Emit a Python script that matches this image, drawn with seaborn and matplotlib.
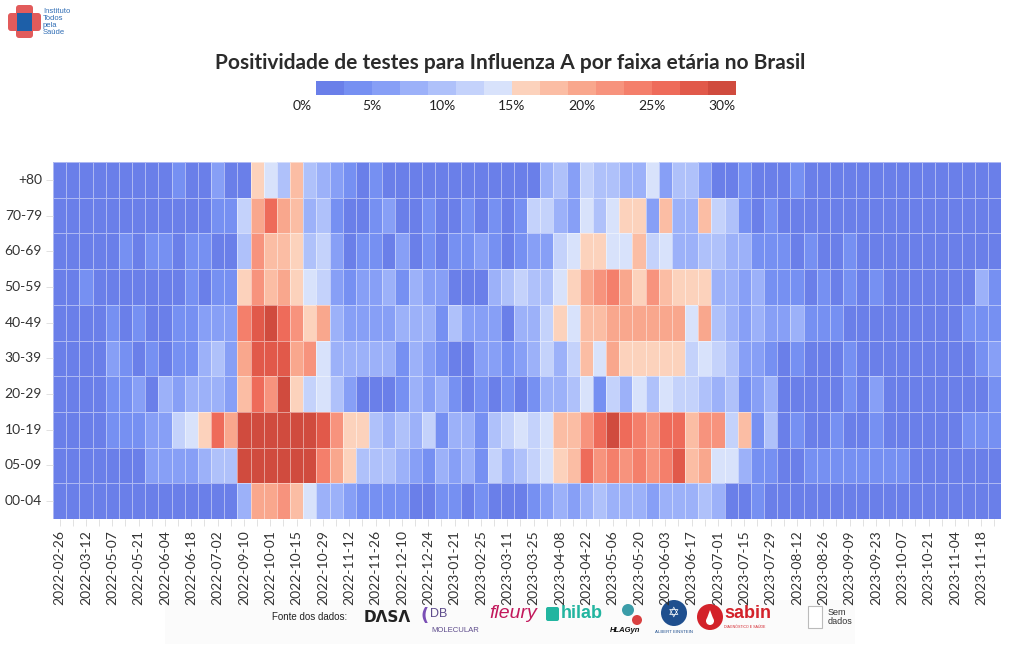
import numpy as np
import pandas as pd
import matplotlib
matplotlib.use("Agg")
import matplotlib.pyplot as plt
import seaborn as sns
from matplotlib.colors import ListedColormap
from matplotlib.patches import FancyBboxPatch, Rectangle, Circle, Polygon

# ---------------- data ----------------
age_groups = ["+80", "70-79", "60-69", "50-59", "40-49", "30-39", "20-29", "10-19", "05-09", "00-04"]

weeks = [
    "2022-02-26", "2022-03-05", "2022-03-12", "2022-04-30", "2022-05-07", "2022-05-14",
    "2022-05-21", "2022-05-28", "2022-06-04", "2022-06-11", "2022-06-18", "2022-06-25",
    "2022-07-02", "2022-09-03", "2022-09-10", "2022-09-24", "2022-10-01", "2022-10-08",
    "2022-10-15", "2022-10-22", "2022-10-29", "2022-11-05", "2022-11-12", "2022-11-19",
    "2022-11-26", "2022-12-03", "2022-12-10", "2022-12-17", "2022-12-24", "2023-01-14",
    "2023-01-21", "2023-02-18", "2023-02-25", "2023-03-04", "2023-03-11", "2023-03-18",
    "2023-03-25", "2023-04-01", "2023-04-08", "2023-04-15", "2023-04-22", "2023-04-29",
    "2023-05-06", "2023-05-13", "2023-05-20", "2023-05-27", "2023-06-03", "2023-06-10",
    "2023-06-17", "2023-06-24", "2023-07-01", "2023-07-08", "2023-07-15", "2023-07-22",
    "2023-07-29", "2023-08-05", "2023-08-12", "2023-08-19", "2023-08-26", "2023-09-02",
    "2023-09-09", "2023-09-16", "2023-09-23", "2023-09-30", "2023-10-07", "2023-10-14",
    "2023-10-21", "2023-10-28", "2023-11-04", "2023-11-11", "2023-11-18", "2023-11-25",
]

# positivity (%) per age group, one value per week
pos_80 = [1, 1, 1, 1, 1, 1, 1, 1, 1, 3, 1, 1, 5, 1, 1, 15, 13, 9, 17, 9, 7, 5, 3, 1,
          3, 1, 1, 1, 1, 1, 1, 1, 1, 1, 1, 1, 1, 7, 9, 5, 11, 9, 9, 7, 7, 13, 5, 9,
          9, 5, 1, 1, 3, 1, 1, 1, 3, 1, 1, 1, 1, 1, 1, 1, 1, 1, 1, 1, 1, 1, 1, 1]
pos_70 = [1, 1, 1, 1, 1, 1, 1, 1, 1, 1, 1, 1, 3, 3, 11, 19, 25, 19, 17, 7, 9, 3, 1, 1,
          3, 5, 1, 1, 3, 1, 1, 3, 1, 3, 1, 3, 11, 11, 7, 5, 13, 9, 13, 15, 15, 5, 17, 7,
          7, 17, 11, 9, 3, 1, 3, 1, 1, 1, 1, 1, 1, 1, 1, 1, 1, 1, 1, 1, 1, 1, 1, 1]
pos_60 = [1, 1, 1, 1, 1, 3, 1, 3, 3, 1, 3, 3, 1, 1, 9, 21, 17, 17, 15, 9, 11, 5, 1, 3,
          3, 1, 5, 1, 3, 1, 3, 3, 5, 3, 1, 3, 5, 5, 11, 13, 15, 15, 13, 13, 17, 11, 13, 7,
          7, 9, 9, 7, 7, 3, 3, 3, 1, 3, 1, 1, 3, 1, 1, 1, 1, 1, 1, 1, 1, 1, 1, 1]
pos_50 = [1, 1, 3, 1, 1, 1, 1, 1, 1, 1, 3, 1, 3, 3, 15, 21, 17, 19, 15, 13, 11, 5, 3, 5,
          5, 7, 3, 7, 5, 5, 1, 1, 1, 7, 9, 11, 9, 9, 13, 15, 19, 21, 23, 19, 15, 21, 17, 15,
          15, 15, 7, 7, 5, 7, 3, 3, 3, 1, 3, 1, 3, 1, 3, 1, 1, 1, 1, 1, 1, 1, 7, 3]
pos_40 = [1, 1, 1, 1, 3, 1, 3, 1, 1, 3, 3, 5, 5, 5, 23, 27, 29, 25, 21, 15, 19, 7, 5, 5,
          5, 5, 7, 7, 7, 3, 9, 5, 5, 5, 1, 7, 7, 11, 15, 13, 17, 17, 19, 19, 19, 19, 19, 19,
          13, 19, 9, 7, 5, 7, 5, 5, 7, 3, 3, 3, 1, 1, 1, 1, 1, 1, 1, 1, 1, 3, 3, 3]
pos_30 = [1, 1, 1, 1, 5, 3, 1, 3, 1, 3, 3, 7, 9, 5, 19, 27, 27, 27, 19, 21, 13, 7, 7, 7,
          7, 7, 3, 7, 5, 3, 1, 1, 5, 5, 3, 5, 7, 11, 7, 11, 17, 13, 19, 15, 15, 15, 15, 15,
          11, 13, 11, 9, 5, 5, 3, 1, 3, 1, 1, 1, 3, 1, 1, 1, 1, 1, 1, 1, 1, 1, 3, 5]
pos_20 = [1, 1, 1, 1, 3, 3, 5, 1, 7, 5, 7, 7, 7, 5, 17, 25, 21, 29, 15, 11, 13, 9, 5, 1,
          1, 1, 3, 7, 5, 7, 3, 1, 3, 1, 3, 1, 3, 7, 7, 9, 13, 3, 11, 7, 13, 9, 13, 11,
          11, 9, 7, 9, 3, 5, 7, 1, 1, 1, 1, 1, 3, 1, 5, 1, 1, 1, 1, 1, 1, 1, 1, 3]
pos_10 = [1, 1, 1, 1, 3, 3, 3, 5, 5, 11, 13, 15, 25, 19, 29, 29, 29, 29, 29, 29, 27, 21, 15, 15,
          9, 7, 9, 7, 11, 3, 7, 7, 3, 9, 11, 13, 11, 13, 17, 17, 21, 25, 29, 25, 23, 21, 25, 25,
          17, 21, 21, 11, 17, 3, 9, 1, 3, 1, 1, 3, 1, 1, 3, 1, 1, 1, 1, 1, 1, 3, 3, 3]
pos_05 = [1, 1, 1, 1, 1, 1, 1, 5, 5, 5, 5, 7, 9, 9, 29, 29, 29, 29, 29, 29, 23, 19, 15, 9,
          9, 9, 7, 5, 3, 7, 5, 7, 3, 11, 7, 9, 11, 13, 15, 17, 25, 21, 23, 21, 23, 21, 23, 27,
          17, 19, 13, 13, 7, 3, 3, 1, 1, 3, 3, 3, 3, 3, 3, 3, 3, 1, 1, 1, 1, 1, 1, 1]
pos_00 = [1, 1, 1, 1, 1, 1, 1, 1, 1, 1, 1, 1, 1, 1, 7, 19, 19, 21, 17, 13, 7, 7, 5, 3,
          3, 3, 3, 1, 1, 3, 3, 1, 3, 1, 1, 1, 3, 5, 7, 5, 7, 9, 7, 7, 7, 5, 7, 7,
          7, 9, 7, 1, 1, 3, 1, 1, 1, 1, 1, 1, 1, 1, 1, 1, 1, 1, 1, 1, 1, 1, 1, 1]

legend_ticks = [0, 5, 10, 15, 20, 25, 30]

title = "Positividade de testes para Influenza A por faixa etária no Brasil"

# ---------------- style ----------------
palette = ["#6a7fe9", "#7690f2", "#879ff6", "#9cb1f9", "#afc1fa", "#c4d2fb", "#d8e2fb",
           "#fcd2bc", "#fbbda4", "#f9a78d", "#f7937d", "#f47f6b", "#ee6b5a", "#e1594a", "#d04b3e"]
cmap = ListedColormap(palette)

FONT = "Lato"
TXT = "#333333"

fig = plt.figure(figsize=(10.2, 6.5), dpi=100)
fig.patch.set_facecolor("white")

# overlay in pixel coordinates for decorations
ov = fig.add_axes([0, 0, 1, 1])
ov.set_xlim(0, 1020)
ov.set_ylim(650, 0)
ov.axis("off")

# ---------------- heatmap ----------------
df = pd.DataFrame([pos_80, pos_70, pos_60, pos_50, pos_40, pos_30, pos_20, pos_10, pos_05, pos_00],
                  index=age_groups, columns=weeks)

ax = fig.add_axes([53 / 1020, 1 - 519 / 650, 948 / 1020, 357 / 650])
sns.heatmap(df, ax=ax, cmap=cmap, vmin=0, vmax=30, cbar=False,
            linewidths=0.6, linecolor=(1, 1, 1, 0.45))

ax.set_xticks(np.arange(len(weeks)) + 0.5)
ax.set_xticklabels([w if i % 2 == 0 else "" for i, w in enumerate(weeks)],
                   rotation=90, fontsize=10, family=FONT, color=TXT)
ax.set_yticks(np.arange(len(age_groups)) + 0.5)
ax.set_yticklabels(age_groups, rotation=0, fontsize=10, family=FONT, color=TXT)
ax.tick_params(axis="x", length=5, width=0.6, color="#dddddd", pad=3)
ax.tick_params(axis="y", length=5, width=0.6, color="#dddddd", pad=3)
ax.set_xlabel("")
ax.set_ylabel("")

# ---------------- title ----------------
fig.text(0.5, 1 - 63 / 650, title, ha="center", va="center", fontsize=15,
         fontweight="bold", family=FONT, color="#2b2b2b")

# ---------------- color legend ----------------
cax = fig.add_axes([316 / 1020, 1 - 95 / 650, 420 / 1020, 14 / 650])
edges = np.arange(0, 32, 2)
cax.pcolormesh(edges, [0, 1], (edges[:-1] + 1).reshape(1, -1), cmap=cmap, vmin=0, vmax=30)
cax.set_xlim(0, 30)
cax.set_ylim(0, 1)
cax.axis("off")
for t in legend_ticks:
    cax.text(t - 1, -0.35, f"{t}%", ha="center", va="top", fontsize=10,
             family=FONT, color="#222222", clip_on=False)

# ---------------- top-left logo ----------------
ov.add_patch(FancyBboxPatch((8, 13), 33, 18, boxstyle="round,pad=0,rounding_size=3",
                            fc="#e25b5b", ec="none"))
ov.add_patch(FancyBboxPatch((16, 5), 17, 33, boxstyle="round,pad=0,rounding_size=3",
                            fc="#e25b5b", ec="none"))
ov.add_patch(Rectangle((17, 13), 15, 18, fc="#1d5fa8", ec="none"))
ov.text(43, 22, "Instituto\nTodos\npela\nSaúde", fontsize=5.5, color="#2f6db5",
        va="center", ha="left", linespacing=0.95, family="Liberation Sans")

# ---------------- footer (data sources) ----------------
ov.add_patch(Rectangle((165, 600), 690, 44, fc="#fbfbfb", ec="none"))
ov.text(272, 617, "Fonte dos dados:", fontsize=7, color="#222222", va="center",
        family="Liberation Sans")
ov.text(364, 617, "DɅSɅ", fontsize=11, color="#222222", va="center", fontweight="bold",
        family="DejaVu Sans")
ov.text(421, 616, "(", fontsize=13, color="#7a4fb5", va="center", fontweight="bold",
        family="DejaVu Sans")
ov.text(430, 614, "DB", fontsize=9, color="#5e4c8c", va="center", family="Liberation Sans")
ov.text(431, 630, "MOLECULAR", fontsize=5.6, color="#5e4c8c", va="center", family="Liberation Sans")
ov.text(489, 614, "fleury", fontsize=14, color="#c2185b", va="center", style="italic",
        family="Liberation Sans")
ov.add_patch(FancyBboxPatch((546, 607), 13, 14, boxstyle="round,pad=0,rounding_size=2",
                            fc="#22b5a0", ec="none"))
ov.text(561, 614, "hilab", fontsize=13, color="#22b5a0", va="center", fontweight="bold",
        family="Liberation Sans")
ov.add_patch(Circle((628, 610), 6, fc="#3a9ca8", ec="none"))
ov.add_patch(Circle((637, 620), 5, fc="#d94040", ec="none"))
ov.text(610, 630, "HLAGyn", fontsize=5.5, color="#111111", va="center", fontweight="bold",
        style="italic", family="Liberation Sans")
ov.add_patch(Circle((674, 613), 13, fc="#1f4f8e", ec="none"))
ov.text(674, 613, "✡", fontsize=10, color="white", va="center", ha="center", family="DejaVu Sans")
ov.text(674, 632, "ALBERT EINSTEIN", fontsize=3.2, color="#1f4f8e", va="center", ha="center",
        family="Liberation Sans")
ov.add_patch(Circle((710, 617), 13, fc="#d3222a", ec="none"))
ov.add_patch(Circle((710, 621), 4, fc="white", ec="none"))
ov.add_patch(Polygon([[706.5, 619.5], [713.5, 619.5], [710, 610]], closed=True, fc="white", ec="none"))
ov.text(724, 614, "sabin", fontsize=13, color="#d3222a", va="center", fontweight="bold",
        family="Liberation Sans")
ov.text(724, 627, "DIAGNÓSTICO E SAÚDE", fontsize=2.6, color="#d3222a", va="center",
        family="Liberation Sans")
ov.add_patch(Rectangle((808, 606), 14, 22, fc="white", ec="#bbbbbb", lw=0.8))
ov.text(828, 617, "Sem\ndados", fontsize=6.5, color="#333333", va="center", ha="left",
        family="Liberation Sans", linespacing=1.1)

fig.savefig("out.png", dpi=100)
